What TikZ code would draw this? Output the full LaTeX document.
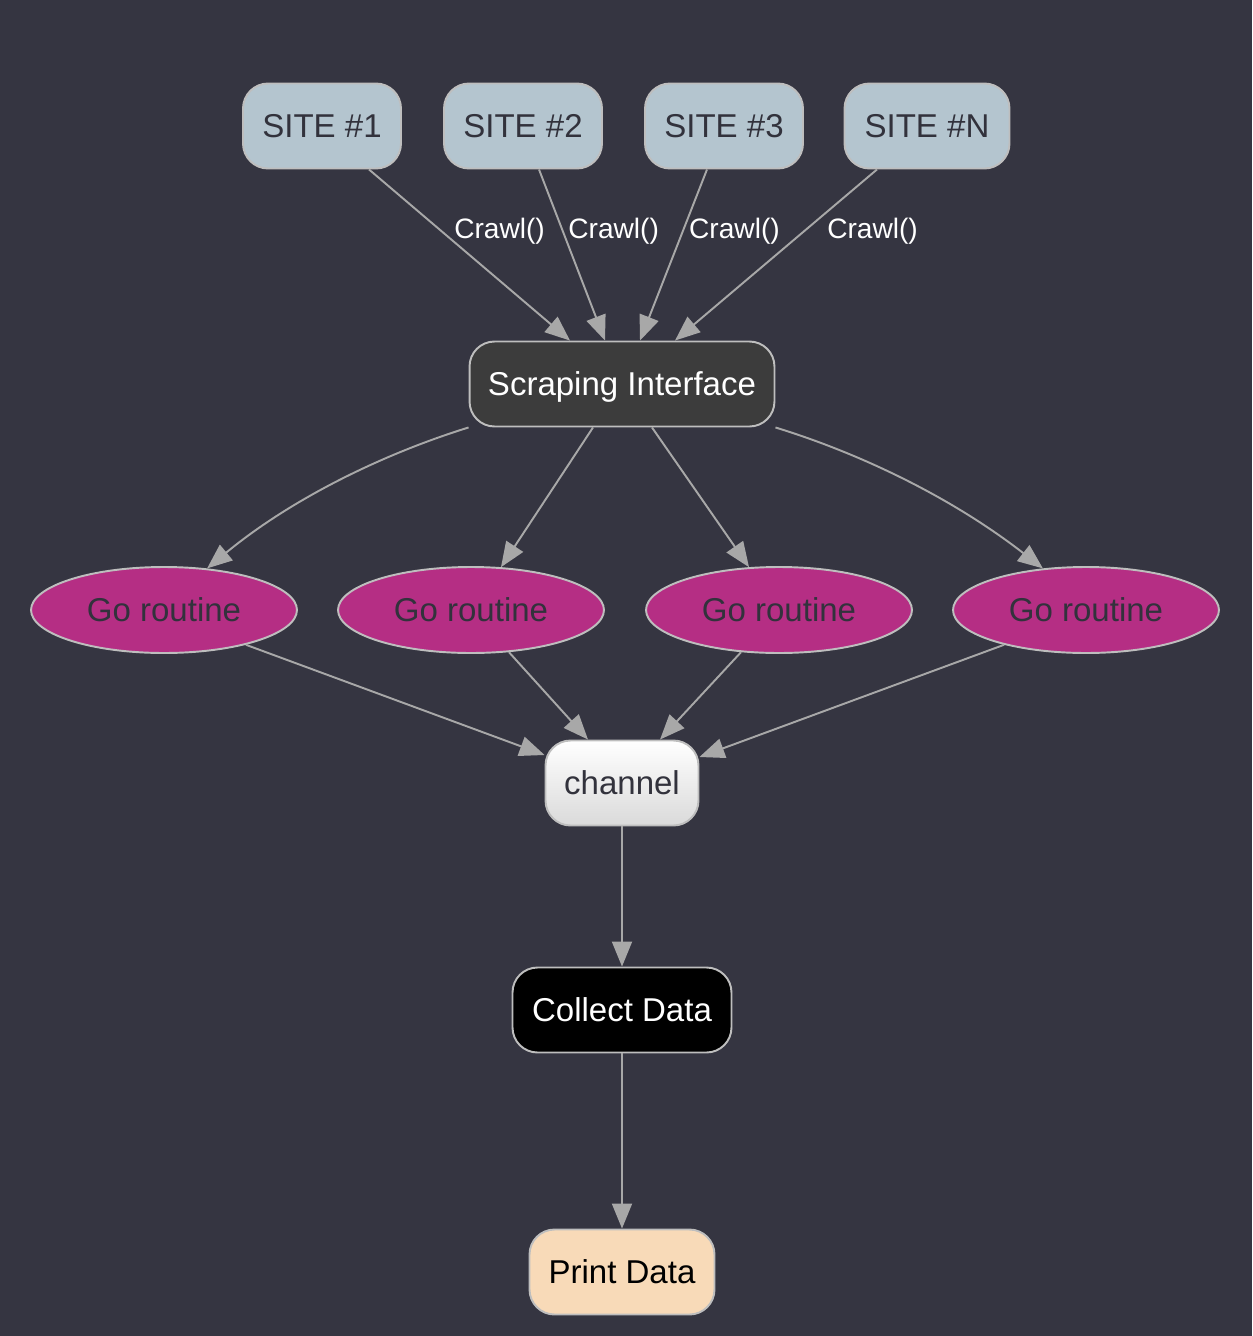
\documentclass[tikz,border=0pt]{standalone}
\usepackage{fontspec}
\setmainfont{Liberation Sans}
\usetikzlibrary{arrows.meta,calc,shapes.geometric}
\definecolor{bg}{RGB}{53,53,65}
\definecolor{sitefill}{RGB}{180,197,207}
\definecolor{gofill}{RGB}{181,46,132}
\definecolor{scrapfill}{RGB}{60,60,60}
\definecolor{printfill}{RGB}{248,218,184}
\definecolor{chanbot}{RGB}{218,218,218}
\definecolor{darktext}{RGB}{50,50,60}
\definecolor{nodeline}{RGB}{190,190,190}
\definecolor{edgegray}{RGB}{168,168,168}
\tikzset{
  box/.style={draw=nodeline, line width=1.1pt, rounded corners=.5cm, inner sep=0pt,
    minimum height=1.7cm, text depth=0pt, font=\fontsize{18.8}{22}\selectfont},
  site/.style={box, fill=sitefill, text=darktext, minimum width=3.16cm},
  goell/.style={ellipse, draw=nodeline, line width=1.1pt, fill=gofill, text=darktext, inner sep=0pt,
    minimum width=5.32cm, minimum height=1.72cm, text depth=0pt, font=\fontsize{18.8}{22}\selectfont},
  edge/.style={draw=edgegray, line width=1.1pt, ->},
  crawl/.style={text=white, inner sep=0pt, anchor=west, font=\fontsize{16}{19}\selectfont}
}
\begin{document}
\begin{tikzpicture}[x=0.02cm, y=-0.02cm, line join=round, >={Triangle[length=.5cm,width=.4cm]}]
    \fill[bg] (0,0) rectangle (1252,1336);
    % sites
    \foreach \n/\x in {1/322,2/523,3/724}
    \node[site] (site\n) at (\x,126) {SITE \#\n};
    \node[site, minimum width=3.3cm] (siteN) at (927,126) {SITE \#N};
    \node[box, fill=scrapfill, text=white, minimum width=6.1cm] (scrap) at (622,384) {Scraping Interface};
    \foreach \i/\x in {1/164,2/471,3/779,4/1086}
    \node[goell] (gr\i) at (\x,610) {Go routine};
    \node[box, top color=white, bottom color=chanbot, text=darktext, minimum width=3.06cm] (chan) at (622,783) {channel};
    \node[box, fill=black, text=white, minimum width=4.38cm] (collect) at (622,1010) {Collect Data};
    \node[box, fill=printfill, text=black, minimum width=3.7cm] (print) at (622,1272) {Print Data};
    % crawl edges
    \foreach \n/\a/\b/\g in {1/47/-52/16,2/16/-17/6,3/-17/18/4,N/-50/53/18}
    \draw[edge] ($(site\n.south)+(\a,0)$) -- node[crawl, pos=.34, xshift=\g*0.02cm, yshift=-.08cm] {Crawl()} ($(scrap.north)+(\b,0)$);
    % fan out
    \draw[edge] (scrap.south west) .. controls (380,455) and (290,500) .. (gr1.44);
    \draw[edge] ($(scrap.south)+(-29,0)$) -- (gr2.55);
    \draw[edge] ($(scrap.south)+(30,0)$) -- (gr3.125);
    \draw[edge] (scrap.south east) .. controls (865,455) and (955,500) .. (gr4.136);
    % fan in
    \draw[edge] (gr1.-23) -- ($(chan.west)+(0,-28)$);
    \draw[edge] (gr2.-48) -- ($(chan.north)+(-34,0)$);
    \draw[edge] (gr3.-132) -- ($(chan.north)+(38,0)$);
    \draw[edge] (gr4.-157) -- ($(chan.east)+(0,-26)$);
    \draw[edge] (chan) -- (collect);
    \draw[edge] (collect) -- (print);
\end{tikzpicture}
\end{document}
